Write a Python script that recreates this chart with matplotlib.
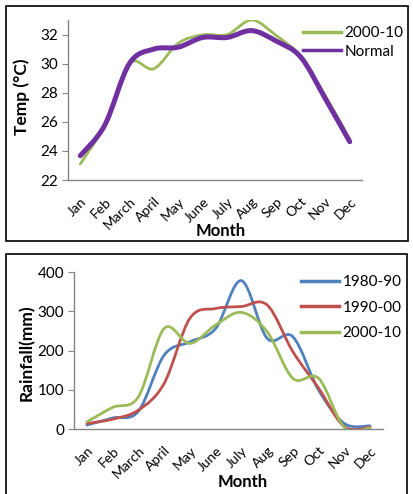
import numpy as np
import matplotlib
matplotlib.use('Agg')
import matplotlib.pyplot as plt
from matplotlib.path import Path
from matplotlib.patches import PathPatch, Rectangle
from matplotlib.lines import Line2D

plt.rcParams['font.family'] = ['Lato', 'DejaVu Sans']

months = ['Jan', 'Feb', 'March', 'April', 'May', 'June', 'July', 'Aug',
          'Sep', 'Oct', 'Nov', 'Dec']

# temperature (deg C)
temp_2000_10 = [23.1, 25.8, 30.0, 29.65, 31.4, 31.98, 32.0, 33.0, 31.93, 30.5, 27.8, 24.8]
temp_normal = [23.67, 25.77, 29.99, 31.0, 31.13, 31.8, 31.8, 32.27, 31.55, 30.45, 27.6, 24.63]

# rainfall (mm)
rain_1980_90 = [10, 28, 45, 188, 222, 256, 378, 231, 235, 99, 14, 8]
rain_1990_00 = [14, 25, 48, 116, 282, 307, 312, 316, 197, 104, 6, 5]
rain_2000_10 = [18, 55, 82, 256, 218, 265, 297, 248, 129, 129, 4, 3]

C_BLUE = '#4F81BD'
C_RED = '#C0504D'
C_GREEN = '#9BBB59'
C_PURPLE = '#7030A0'
C_AXIS = '#868686'

W, H = 414, 494


def smooth_path(x, y):
    # Excel-style smoothed line: cubic bezier through every point
    pts = np.column_stack([x, y]).astype(float)
    n = len(pts)
    ext = np.vstack([pts[0], pts, pts[-1]])
    verts = [pts[0]]
    codes = [Path.MOVETO]
    for i in range(n - 1):
        p0, p1, p2, p3 = ext[i], ext[i + 1], ext[i + 2], ext[i + 3]
        verts += [p1 + (p2 - p0) / 6, p2 - (p3 - p1) / 6, p2]
        codes += [Path.CURVE4] * 3
    return Path(verts, codes)


def draw_line(ax, y, color, lw):
    x = np.arange(len(y))
    ax.add_patch(PathPatch(smooth_path(x, y), fill=False, edgecolor=color,
                           lw=lw, capstyle='round', joinstyle='round'))


def px_axes(left, top, right, bottom):
    return fig.add_axes([left / W, (H - bottom) / H, (right - left) / W, (bottom - top) / H])


def style_axes(ax):
    for s in ['top', 'right']:
        ax.spines[s].set_visible(False)
    for s in ['left', 'bottom']:
        ax.spines[s].set_color(C_AXIS)
        ax.spines[s].set_linewidth(1.0)
    ax.set_xlim(-0.5, len(months) - 0.5)
    ax.set_xticks(np.arange(len(months)))
    ax.set_xticklabels(months, rotation=45, ha='right', rotation_mode='anchor', fontsize=10)
    ax.tick_params(axis='x', length=0, pad=11)
    ax.tick_params(axis='y', length=4, color=C_AXIS, labelsize=11, pad=3)


fig = plt.figure(figsize=(W / 100, H / 100), dpi=100)

# panel frames
fig.patches.append(Rectangle((6 / W, (H - 241) / H), 402 / W, 235 / H, transform=fig.transFigure,
                             fill=False, edgecolor='black', lw=1.2))
fig.patches.append(Rectangle((6 / W, -0.01), 401 / W, (H - 254) / H + 0.01, transform=fig.transFigure,
                             fill=False, edgecolor='black', lw=1.2))

# temperature panel
ax1 = px_axes(68, 20, 362, 180)
draw_line(ax1, temp_2000_10, C_GREEN, 2.0)
draw_line(ax1, temp_normal, C_PURPLE, 3.6)
style_axes(ax1)
ax1.set_ylim(22, 33)
ax1.set_yticks([22, 24, 26, 28, 30, 32])
ax1.set_ylabel('Temp (°C)', fontweight='bold', fontsize=12.5, va='center')
ax1.yaxis.set_label_coords(-0.156, 0.52)
ax1.set_xlabel('Month', fontweight='bold', fontsize=12, va='center')
ax1.xaxis.set_label_coords(0.52, -0.319)
h1 = [Line2D([], [], color=C_GREEN, lw=2.5), Line2D([], [], color=C_PURPLE, lw=2.5)]
ax1.legend(h1, ['2000-10', 'Normal'], loc='upper left', bbox_to_anchor=(297 / W, (H - 20) / H),
           bbox_transform=fig.transFigure, frameon=False, fontsize=11, handlelength=2.5,
           handletextpad=0.2, labelspacing=0.3, borderaxespad=0)

# rainfall panel
ax2 = px_axes(74, 272, 383, 429)
draw_line(ax2, rain_1980_90, C_BLUE, 2.0)
draw_line(ax2, rain_1990_00, C_RED, 2.0)
draw_line(ax2, rain_2000_10, C_GREEN, 2.0)
style_axes(ax2)
ax2.set_ylim(0, 400)
ax2.set_yticks([0, 100, 200, 300, 400])
ax2.set_ylabel('Rainfall(mm)', fontweight='bold', fontsize=12.5, va='center')
ax2.yaxis.set_label_coords(-0.152, 0.484)
ax2.set_xlabel('Month', fontweight='bold', fontsize=12, va='center')
ax2.xaxis.set_label_coords(0.545, -0.338)
h2 = [Line2D([], [], color=c, lw=2.5) for c in (C_BLUE, C_RED, C_GREEN)]
ax2.legend(h2, ['1980-90', '1990-00', '2000-10'], loc='upper left',
           bbox_to_anchor=(295 / W, (H - 269) / H), bbox_transform=fig.transFigure,
           frameon=False, fontsize=11, handlelength=2.5, handletextpad=0.2,
           labelspacing=0.75, borderaxespad=0)

fig.savefig('out.png', dpi=100)
